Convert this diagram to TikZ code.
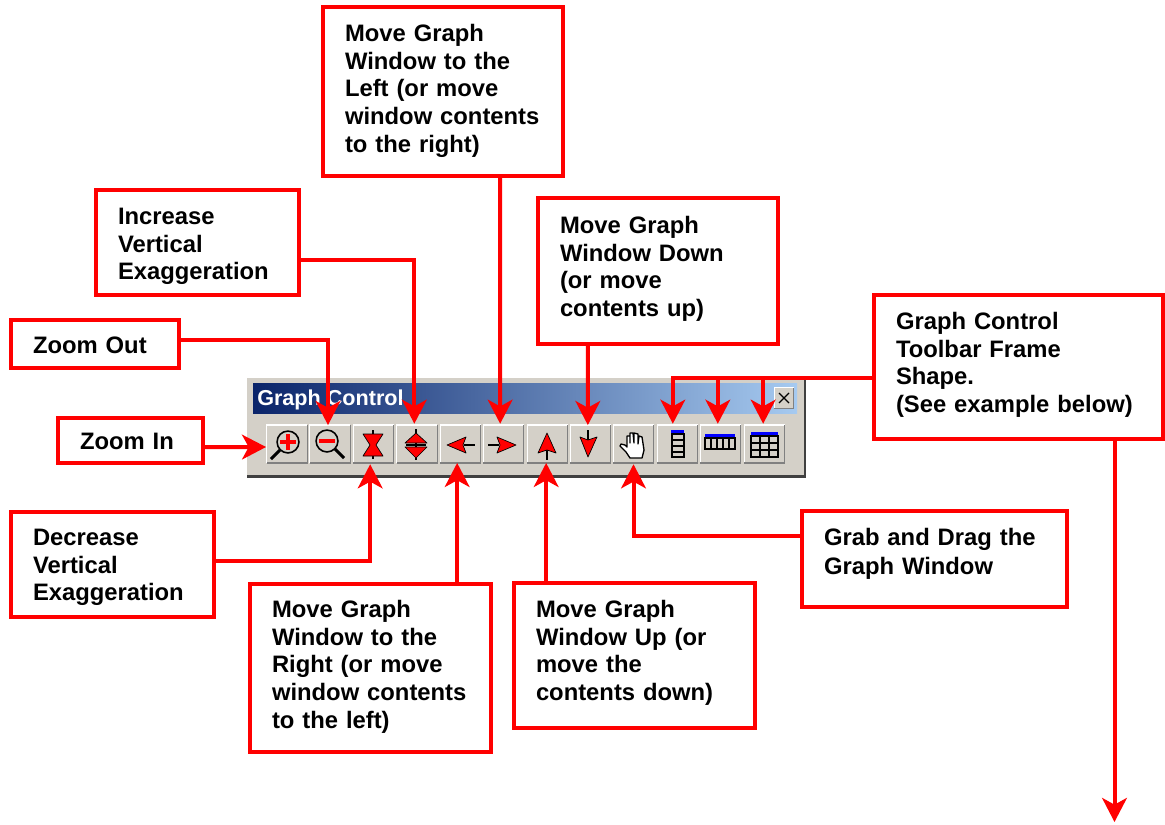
\documentclass[tikz,border=0pt]{standalone}
\usepackage{fontspec}
\setmainfont{Liberation Sans}
\definecolor{tipred}{RGB}{255,0,0}
\definecolor{barface}{RGB}{212,208,200}
\definecolor{barshadow}{RGB}{64,64,64}
\definecolor{btnshadow}{RGB}{128,128,128}
\definecolor{titledark}{RGB}{10,36,106}
\definecolor{titlelight}{RGB}{166,202,240}
\definecolor{stripeblue}{RGB}{0,0,255}
\usetikzlibrary{arrows.meta, positioning}
\tikzset{
  notebox/.style={draw=tipred, fill=white, line width=3pt, inner xsep=16.5pt, inner ysep=0pt,
      font=\fontsize{17.85}{20.8}\selectfont\bfseries, align=left},
  textdrop/.style={text height=0pt, text depth=#1},
  textlift/.style={text height=#1, text depth=0pt},
  pointer/.style={draw=tipred, line width=3pt,
      -{Stealth[length=18pt, width=18.5pt, inset=5pt]}},
  toolbtn/.style={fill=barface, minimum width=30pt, minimum height=28pt, inner sep=0pt},
  redicon/.style={fill=tipred, draw=black, line width=0.5pt, line join=round},
  iconline/.style={draw=black, line width=0.9pt},
  gridline/.style={draw=black, line width=1.4pt},
}
\begin{document}
\begin{tikzpicture}[x=0.75pt, y=-0.75pt]
\useasboundingbox (0,0) rectangle (1165,825);

% === Toolbar ===
\node[fill=barface, minimum width=418pt, minimum height=73.5pt, inner sep=0pt] (toolbar) at (526,427) {};
\draw[barshadow, line width=2pt] (toolbar.north east) -- (toolbar.south east) -- (toolbar.south west);
\node[left color=titledark, right color=titlelight, minimum width=408pt, minimum height=22.5pt, inner sep=0pt] (titlebar) at (525,398) {};
\node[font=\fontsize{16.2}{18}\selectfont\bfseries, text=white, inner sep=0pt, anchor=west] (titletext) at (257,399.5) {Graph Control};
\node[fill=barface, minimum width=14pt, minimum height=15pt, inner sep=0pt] (closebtn) at (784,398) {};
\draw[white, line width=0.8pt] (closebtn.south west) -- (closebtn.north west) -- (closebtn.north east);
\draw[btnshadow, line width=0.8pt] (closebtn.north east) -- (closebtn.south east) -- (closebtn.south west);
\draw[black, line width=1pt] (779,393) -- (789,403) (789,393) -- (779,403);

\foreach \n/\x in {1/287,2/330,3/373.5,4/417,5/460.5,6/503.5,7/547.5,8/590.5,9/633.5,10/677.5,11/720.5,12/764.5}
{
  \node[toolbtn] (btn\n) at (\x,444) {};
  \draw[white, line width=1pt] (btn\n.south west) -- (btn\n.north west) -- (btn\n.north east);
  \draw[btnshadow, line width=1pt] (btn\n.north east) -- (btn\n.south east) -- (btn\n.south west);
}

% === Icons ===
\draw[black, line width=1.2pt] (288,442) circle (8.2pt);
\draw[black, line width=2.2pt] (280,450) -- (271,459);
\draw[tipred, line width=2.4pt] (280,442) -- (296,442) (288,434) -- (288,450);
\draw[black, line width=1.2pt] (327,441) circle (8.2pt);
\draw[black, line width=2.2pt] (335,449) -- (344,458);
\draw[tipred, line width=2.4pt] (319,441) -- (335,441);

\draw[iconline] (373,430) -- (373,459);
\draw[redicon] (363,434) -- (383,434) -- (376,445) -- (383,456) -- (363,456) -- (370,445) -- cycle;
\draw[iconline] (416,429) -- (416,460) (406,445) -- (426,445);
\draw[redicon] (416,433) -- (427,443) -- (405,443) -- cycle;
\draw[redicon] (416,458) -- (427,447) -- (405,447) -- cycle;

\draw[iconline] (464,445) -- (475,445);
\draw[redicon] (447,445) -- (466,437) -- (463,445) -- (466,453) -- cycle;
\draw[iconline] (488,445) -- (499,445);
\draw[redicon] (516,445) -- (497,437) -- (500,445) -- (497,453) -- cycle;
\draw[iconline] (547,450) -- (547,460);
\draw[redicon] (547,433) -- (556,453) -- (547,450) -- (538,453) -- cycle;
\draw[iconline] (588,430) -- (588,440);
\draw[redicon] (588,457) -- (597,437) -- (588,440) -- (580,437) -- cycle;

% hand
\draw[fill=white, draw=black, line width=1pt, line join=round]
  (630,458) -- (626,452) -- (620,446) -- (621,444) -- (625,445) -- (627,447) -- (627,436) -- (630,436)
  -- (630,443) -- (630,433) -- (633,433) -- (634,443) -- (634,433) -- (638,434) -- (638,444)
  -- (639,436) -- (642,437) -- (644,450) -- (642,458) -- cycle;

% frame shapes
\fill[stripeblue] (671,430) rectangle (684,434);
\draw[gridline] (672,434) rectangle (684,457);
\foreach \y in {440,446,452} { \draw[black, line width=1pt] (672,\y) -- (684,\y); }
\fill[stripeblue] (705,434) rectangle (735,438);
\draw[gridline] (705,438) rectangle (735,449);
\foreach \x in {711,717,723,729} { \draw[black, line width=1pt] (\x,438) -- (\x,449); }
\fill[stripeblue] (751,432) rectangle (778,436);
\draw[gridline] (751,436) rectangle (778,457);
\foreach \x in {760,769} { \draw[black, line width=1pt] (\x,436) -- (\x,457); }
\foreach \y in {443,450} { \draw[black, line width=1pt] (751,\y) -- (778,\y); }

% === Note boxes ===
\node[notebox, textdrop=75pt, minimum width=180pt, minimum height=126.75pt, text width=147pt] (leftbox) at (443,91.5)
  {Move Graph\\Window to the\\Left (or move\\window contents\\to the right)};
\node[notebox, textdrop=27pt, minimum width=152.25pt, minimum height=78.75pt, text width=119.25pt] (incbox) at (197.5,242.5)
  {Increase\\Vertical\\Exaggeration};
\node[notebox, textdrop=56.25pt, minimum width=180pt, minimum height=109.5pt, text width=147pt] (downbox) at (658,271)
  {Move Graph\\Window Down\\(or move\\contents up)};
\node[notebox, textdrop=56.25pt, minimum width=216.75pt, minimum height=108pt, text width=183.75pt] (framebox) at (1018.5,367)
  {Graph Control\\Toolbar Frame\\Shape.\\(See example below)};
\node[notebox, textlift=14.25pt, minimum width=126pt, minimum height=36pt, text width=93pt] (outbox) at (95,344) {Zoom Out};
\node[notebox, textlift=13.5pt, minimum width=108.75pt, minimum height=33.75pt, text width=75.75pt] (inbox) at (130.5,440.5) {Zoom In};
\node[notebox, textdrop=28.5pt, minimum width=152.25pt, minimum height=78.75pt, text width=119.25pt] (decbox) at (112.5,564.5)
  {Decrease\\Vertical\\Exaggeration};
\node[notebox, textdrop=75.75pt, minimum width=180.75pt, minimum height=126pt, text width=147.75pt] (rightbox) at (370.5,668)
  {Move Graph\\Window to the\\Right (or move\\window contents\\to the left)};
\node[notebox, textdrop=57pt, minimum width=180.75pt, minimum height=108.75pt, text width=147.75pt] (upbox) at (634.5,655.5)
  {Move Graph\\Window Up (or\\move the\\contents down)};
\node[notebox, textdrop=20.25pt, minimum width=198.75pt, minimum height=72pt, text width=165.75pt] (grabbox) at (934.5,559)
  {Grab and Drag the\\[0.8pt]Graph Window};

% === Connectors ===
\coordinate (frameend) at (1114.5,822);
\draw[pointer] ([yshift=-5pt]inbox.east) -- ([xshift=-0.5pt]btn1.west |- 0,447);
\draw[pointer] ([yshift=3pt]outbox.east) -| ([xshift=-1.5pt]btn2.north);
\draw[pointer] ([yshift=-13pt]incbox.east) -| ([xshift=-2pt,yshift=1pt]btn4.north);
\draw[pointer] ([xshift=42.75pt]leftbox.south) -- ([xshift=-2.5pt,yshift=1pt]btn6.north);
\draw[pointer] ([xshift=-52.6pt]downbox.south) -- ([xshift=-2pt]btn8.north);
\draw[line width=3pt, tipred, line cap=rect] (framebox.west |- 0,378) -- ([xshift=-3.5pt]btn10.north |- 0,378);
\draw[pointer] ([xshift=-3.5pt]btn10.north |- 0,378) -- ([xshift=-3.5pt,yshift=1pt]btn10.north);
\draw[pointer] ([xshift=-2pt]btn11.north |- 0,378) -- ([xshift=-2pt,yshift=1pt]btn11.north);
\draw[pointer] ([xshift=-1pt]btn12.north |- 0,378) -- ([xshift=-1pt,yshift=1pt]btn12.north);
\draw[pointer] ([xshift=72pt]framebox.south) -- (frameend);
\draw[pointer] ([yshift=3pt]decbox.east) -| ([xshift=-2.5pt,yshift=-1pt]btn3.south);
\draw[pointer] ([xshift=65pt]rightbox.north) -- ([xshift=-2.5pt]btn5.south);
\draw[pointer] ([xshift=-66.25pt]upbox.north) -- ([xshift=-1pt]btn7.south);
\draw[pointer] ([yshift=17pt]grabbox.west) -| ([yshift=-1pt]btn9.south);

\end{tikzpicture}
\end{document}
